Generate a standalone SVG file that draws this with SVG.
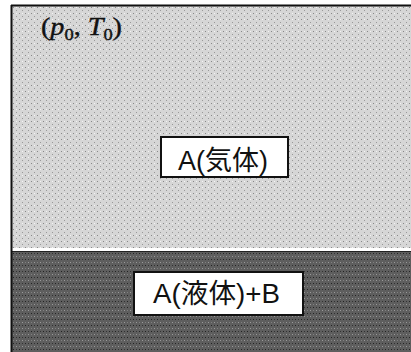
<svg xmlns="http://www.w3.org/2000/svg" width="411" height="352" viewBox="0 0 411 352">
<style>
.lbl{font-family:"Liberation Sans","Noto Sans CJK JP",sans-serif;font-size:27px;fill:#111;text-anchor:middle}
.box{fill:#fff;stroke:#111;stroke-width:2}
.math{font-family:"Liberation Serif",serif;font-size:26px;fill:#111;stroke:#111;stroke-width:0.4}
</style>
<defs>
<pattern id="lt" width="6" height="6" patternUnits="userSpaceOnUse">
<rect width="6" height="6" fill="#d6d6d6"/>
<rect x="1" y="1" width="1" height="1" fill="#888"/>
<rect x="4" y="4" width="1" height="1" fill="#999"/>
<rect x="4" y="1" width="1" height="1" fill="#f4f4f4"/>
</pattern>
<pattern id="dk" width="6" height="6" patternUnits="userSpaceOnUse">
<rect width="6" height="6" fill="#5e5e5e"/>
<rect x="1" y="1" width="1" height="1" fill="#222"/>
<rect x="4" y="4" width="1" height="1" fill="#9a9a9a"/>
<rect x="4" y="1" width="1" height="1" fill="#333"/>
<rect x="1" y="4" width="1" height="1" fill="#808080"/>
</pattern>
</defs>
<rect x="0" y="0" width="411" height="352" fill="#fff"/>
<g id="gas">
<rect x="12" y="6" width="399" height="242" fill="url(#lt)"/>
</g>
<g id="liquid">
<rect x="12" y="251" width="399" height="101" fill="url(#dk)"/>
<line x1="12" y1="251.5" x2="411" y2="251.5" stroke="#222" stroke-width="1"/>
</g>
<g id="frame">
<line x1="11" y1="5.5" x2="411" y2="5.5" stroke="#111" stroke-width="2"/>
<line x1="11.5" y1="5" x2="11.5" y2="352" stroke="#111" stroke-width="2"/>
</g>
<g id="cond">
<text class="math" x="41" y="35" textLength="81" lengthAdjust="spacingAndGlyphs">(<tspan font-style="italic">p</tspan><tspan font-size="17" dy="5">0</tspan><tspan dy="-5">, </tspan><tspan font-style="italic">T</tspan><tspan font-size="17" dy="5">0</tspan><tspan dy="-5">)</tspan></text>
</g>
<g id="boxA">
<rect class="box" x="161" y="137" width="127" height="40"/>
<text class="lbl" x="223" y="170" textLength="90" lengthAdjust="spacingAndGlyphs">A(気体)</text>
</g>
<g id="boxB">
<rect class="box" x="134" y="272" width="169" height="43"/>
<text class="lbl" x="216.5" y="303" textLength="127" lengthAdjust="spacingAndGlyphs">A(液体)+B</text>
</g>
<g id="connectors"/>
</svg>
